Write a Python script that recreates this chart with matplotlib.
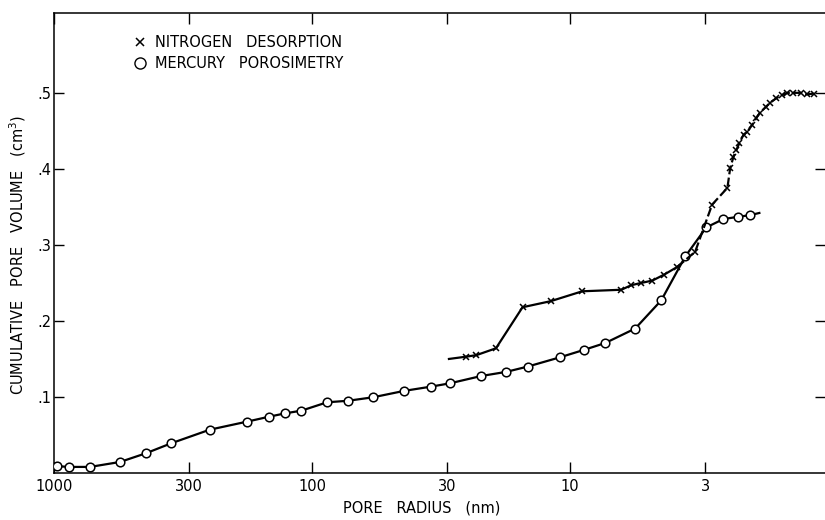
import matplotlib
matplotlib.use('Agg')
import matplotlib.pyplot as plt
from matplotlib.lines import Line2D
from matplotlib.ticker import NullLocator

# Mercury porosimetry: pore radius (nm) vs cumulative pore volume (cm3)
hg_radius = [973, 875, 725, 555, 440, 352, 249, 179, 147, 127, 110, 87.5, 72.6, 58, 44,
             34.6, 29.2, 22.1, 17.7, 14.6, 11.0, 8.83, 7.31, 5.6, 4.44, 3.58, 2.97,
             2.55, 2.23, 2.02, 1.85]
hg_volume = [0.009, 0.008, 0.008, 0.0145, 0.026, 0.039, 0.057, 0.0675, 0.074, 0.0785,
             0.082, 0.093, 0.095, 0.0996, 0.108, 0.1136, 0.118, 0.1276, 0.133, 0.140,
             0.152, 0.162, 0.171, 0.190, 0.227, 0.285, 0.323, 0.334, 0.337, 0.339, 0.342]

# Nitrogen desorption, lower branch (solid) and upper branch (dashed)
n2_radius_low = [29.5, 25.3, 23.1, 19.4, 15.3, 11.9, 8.98, 6.34, 5.80, 5.31, 4.81, 4.32, 3.85]
n2_volume_low = [0.150, 0.153, 0.155, 0.164, 0.218, 0.226, 0.239, 0.241, 0.247, 0.250,
                 0.253, 0.261, 0.271]
n2_radius_up = [3.85, 3.28, 2.82, 2.46, 2.40, 2.33, 2.27, 2.21, 2.13, 2.06, 1.97, 1.90,
                1.84, 1.74, 1.68, 1.59, 1.51, 1.44, 1.37, 1.28, 1.21, 1.14]
n2_volume_up = [0.271, 0.291, 0.353, 0.375, 0.401, 0.416, 0.425, 0.434, 0.445, 0.449,
                0.458, 0.467, 0.474, 0.482, 0.487, 0.493, 0.497, 0.500, 0.500, 0.500,
                0.498, 0.499]

xticks = [1000, 300, 100, 30, 10, 3]
xtick_labels = ['1000', '300', '100', '30', '10', '3']
yticks = [0.1, 0.2, 0.3, 0.4, 0.5]
ytick_labels = ['.1', '.2', '.3', '.4', '.5']

plt.rcParams['font.family'] = ['DejaVu Sans']

fig = plt.figure(figsize=(8.25, 5.2), dpi=100)
ax = fig.add_axes([54 / 825, 1 - 473 / 520, 771 / 825, 460 / 520])

# Mercury curve (last point is line end, no marker)
ax.plot(hg_radius, hg_volume, color='black', lw=1.6, marker='o', ms=6.2,
        mfc='white', mec='black', mew=1.1, markevery=list(range(len(hg_radius) - 1)),
        zorder=3)

# Nitrogen curve
ax.plot(n2_radius_low, n2_volume_low, color='black', lw=1.6, marker='x', ms=5,
        mew=1.1, markevery=list(range(1, len(n2_radius_low))), zorder=3)
ax.plot(n2_radius_up, n2_volume_up, color='black', lw=1.6, ls=(0, (4, 1.5)),
        marker='x', ms=5, mew=1.1, markevery=list(range(1, len(n2_radius_up))), zorder=3)

ax.set_xscale('log')
ax.set_xlim(1000, 1.03)
ax.set_ylim(0, 0.605)
ax.xaxis.set_minor_locator(NullLocator())
ax.yaxis.set_minor_locator(NullLocator())
ax.set_xticks(xticks)
ax.set_xticklabels(xtick_labels)
ax.set_yticks(yticks)
ax.set_yticklabels(ytick_labels)
ax.tick_params(axis='x', direction='in', length=8, width=1, top=True, pad=4, labelsize=10.5)
ax.tick_params(axis='y', direction='in', length=7, width=1, right=True, pad=2, labelsize=10.5)
ax.spines['right'].set_visible(False)
for s in ['left', 'bottom', 'top']:
    ax.spines[s].set_linewidth(1.1)

# Legend
handles = [Line2D([], [], ls='none', marker='x', ms=6, mew=1.1, color='black'),
           Line2D([], [], ls='none', marker='o', ms=8, mfc='white', mec='black', mew=1.0)]
ax.legend(handles, ['NITROGEN   DESORPTION', 'MERCURY   POROSIMETRY'],
          loc='upper left', bbox_to_anchor=(0.097, 0.965), frameon=False,
          handlelength=0.8, handletextpad=0.6, labelspacing=0.45, fontsize=10.5,
          borderaxespad=0)

fig.text(422 / 825, 1 - 508 / 520, 'PORE   RADIUS   (nm)', ha='center', va='center',
         fontsize=10.5)
fig.text(18 / 825, 1 - 255 / 520, 'CUMULATIVE   PORE   VOLUME   (cm$^3$)', rotation=90,
         ha='center', va='center', fontsize=10.5)

fig.savefig('out.png', dpi=100)
